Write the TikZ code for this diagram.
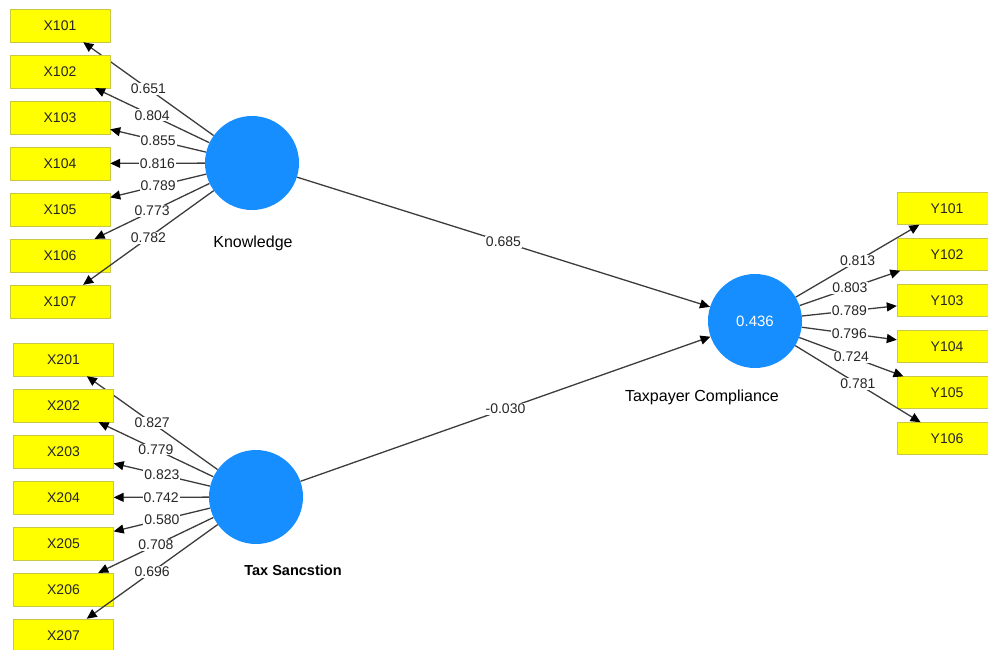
\documentclass[tikz,border=0pt]{standalone}
\usepackage{fontspec}
\setmainfont{Liberation Sans}
\usetikzlibrary{arrows.meta}
\definecolor{boxyellow}{RGB}{255,255,0}
\definecolor{boxedge}{RGB}{200,200,70}
\definecolor{latblue}{RGB}{22,142,255}
\definecolor{pathgray}{RGB}{60,60,60}

\begin{document}
\begin{tikzpicture}[x=1pt, y=-1pt,
    ind/.style={draw=boxedge, fill=boxyellow, minimum width=100pt, minimum height=33pt, inner sep=0pt, text=black!85, font=\fontsize{14}{16}\selectfont},
    lat/.style={circle, fill=latblue, minimum size=94pt, inner sep=0pt},
    link/.style={draw=pathgray, line width=1.3pt, -{Triangle[length=10pt, width=9pt, color=black]}},
    load/.style={fill=white, inner sep=1pt, text=black!85, font=\fontsize{14}{16}\selectfont}]
    \useasboundingbox (0,0) rectangle (988,649);
    % latent variables
    \node[lat] (K) at (252,163) {};
    \node[lat] (S) at (256,497) {};
    \node[lat, text=white, font=\fontsize{15}{17}\selectfont] (C) at (755,321) {0.436};
    \node[font=\fontsize{16}{18}\selectfont] (Klab) at (253,243) {Knowledge};
    \node[font=\bfseries\fontsize{14.5}{17}\selectfont] (Slab) at (293,570) {Tax Sancstion};
    \node[font=\fontsize{16}{18}\selectfont] (Clab) at (702,397) {Taxpayer Compliance};
    % indicators
    \foreach \i/\v in {1/0.651, 2/0.804, 3/0.855, 4/0.816, 5/0.789, 6/0.773, 7/0.782} {
        \node[ind] (X1\i) at (60, {25.5+46*(\i-1)}) {X10\i};
        \draw[link] (K) -- (X1\i) node[load, midway] {\v};
    }
    \foreach \i/\v in {1/0.827, 2/0.779, 3/0.823, 4/0.742, 5/0.580, 6/0.708, 7/0.696} {
        \node[ind] (X2\i) at (63.5, {359.5+46*(\i-1)}) {X20\i};
        \draw[link] (S) -- (X2\i) node[load, midway] {\v};
    }
    \foreach \i/\v in {1/0.813, 2/0.803, 3/0.789, 4/0.796, 5/0.724, 6/0.781} {
        \node[ind, minimum height=32pt] (Y1\i) at (947, {208.5+46*(\i-1)}) {Y10\i};
        \draw[link] (C) -- (Y1\i) node[load, midway] {\v};
    }
    % paths
    \draw[link] (K) -- (C) node[load, midway] {0.685};
    \draw[link] (S) -- (C) node[load, midway] {-0.030};
\end{tikzpicture}
\end{document}
